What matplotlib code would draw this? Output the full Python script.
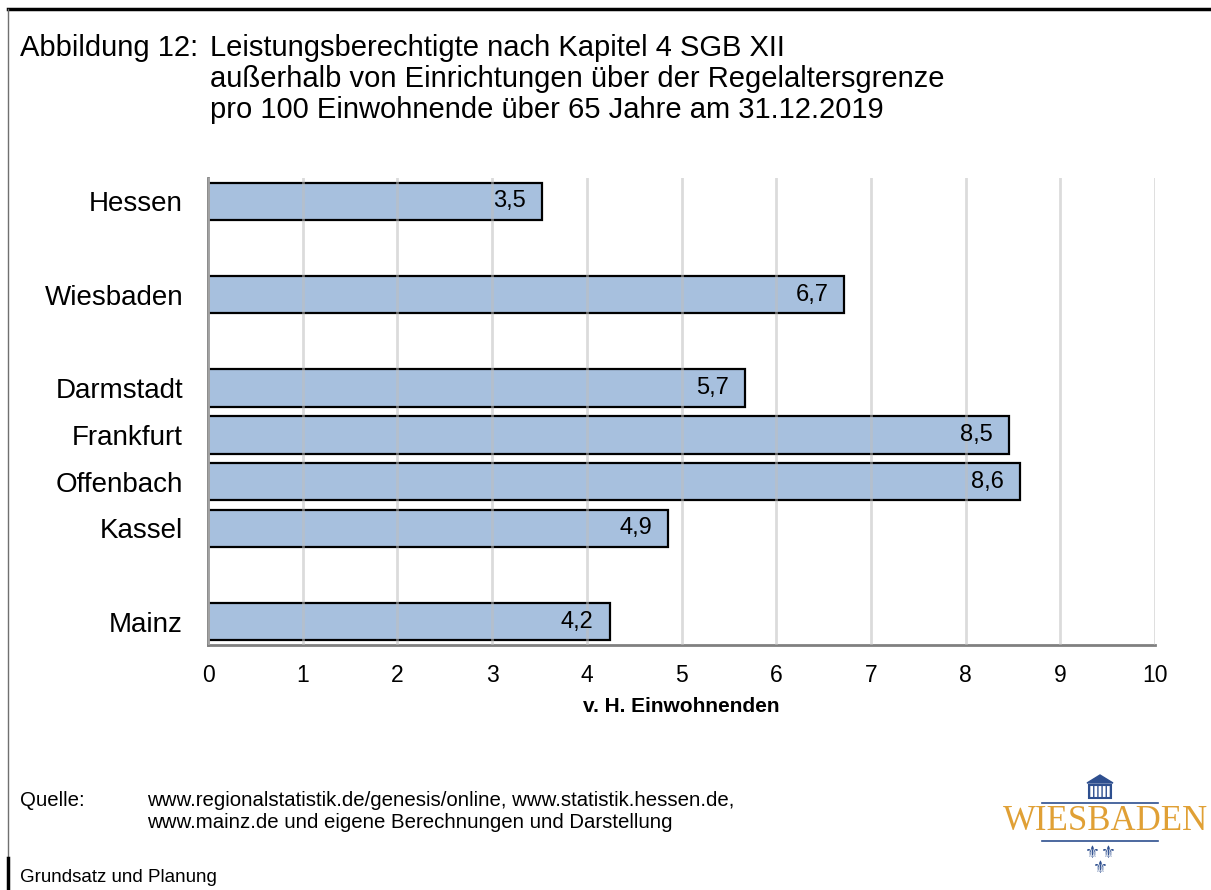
import matplotlib
matplotlib.use('Agg')
import matplotlib.pyplot as plt
from matplotlib.lines import Line2D
from matplotlib.patches import Polygon, Rectangle

plt.rcParams['font.family'] = ['Liberation Sans', 'DejaVu Sans']

# data (slot = row position, gaps are empty rows)
cities = ['Hessen', 'Wiesbaden', 'Darmstadt', 'Frankfurt', 'Offenbach', 'Kassel', 'Mainz']
slots = [0, 2, 4, 5, 6, 7, 9]
values = [3.53, 6.72, 5.67, 8.46, 8.57, 4.86, 4.24]
labels = ['3,5', '6,7', '5,7', '8,5', '8,6', '4,9', '4,2']
xticks = [0, 1, 2, 3, 4, 5, 6, 7, 8, 9, 10]

fig = plt.figure(figsize=(12.11, 8.9), dpi=100)
ax = fig.add_axes([0.1718, 0.2753, 0.782, 0.5247])

ax.barh(slots, values, height=0.8, color='#A7C0DE', edgecolor='black',
        linewidth=1.6, zorder=2)
for s, v, t in zip(slots, values, labels):
    ax.text(v - 0.17, s, t, ha='right', va='center', fontsize=17, zorder=4)

ax.set_xlim(0, 10)
ax.set_ylim(9.5, -0.5)
ax.set_xticks(xticks)
ax.set_xticklabels([str(x) for x in xticks], fontsize=16.5)
ax.set_yticks(slots)
ax.set_yticklabels(cities, fontsize=20)
ax.tick_params(axis='both', length=0)
ax.tick_params(axis='x', pad=14)
ax.tick_params(axis='y', pad=18)
ax.xaxis.grid(True, color='#BFBFBF', linewidth=2, alpha=0.55, zorder=3)
ax.set_axisbelow(False)
for side in ['top', 'right']:
    ax.spines[side].set_visible(False)
for side in ['left', 'bottom']:
    ax.spines[side].set_color('#808080')
    ax.spines[side].set_linewidth(2)
ax.set_xlabel('v. H. Einwohnenden', fontsize=15, fontweight='bold', labelpad=7)

# title block
fig.text(20 / 1211, 1 - 56 / 890, 'Abbildung 12:', fontsize=21, va='baseline')
title_lines = ['Leistungsberechtigte nach Kapitel 4 SGB XII',
               'außerhalb von Einrichtungen über der Regelaltersgrenze',
               'pro 100 Einwohnende über 65 Jahre am 31.12.2019']
for i, line in enumerate(title_lines):
    fig.text(210 / 1211, 1 - (56 + 31 * i) / 890, line, fontsize=21, va='baseline')

# source and footer
fig.text(20 / 1211, 1 - 800 / 890, 'Quelle:', fontsize=14.7, va='center')
fig.text(147 / 1211, 1 - 800 / 890,
         'www.regionalstatistik.de/genesis/online, www.statistik.hessen.de,',
         fontsize=14.7, va='center')
fig.text(147 / 1211, 1 - 822 / 890,
         'www.mainz.de und eigene Berechnungen und Darstellung',
         fontsize=14.7, va='center')
fig.text(20 / 1211, 1 - 877 / 890, 'Grundsatz und Planung', fontsize=13.5, va='center')

# page frame
fig.add_artist(Line2D([8 / 1211, 1], [1 - 9 / 890] * 2, color='black', linewidth=2.5))
fig.add_artist(Line2D([8 / 1211] * 2, [1 - 9 / 890, 1 - 858 / 890], color='#707070', linewidth=1))
fig.add_artist(Line2D([8 / 1211] * 2, [1 - 858 / 890, 0], color='black', linewidth=2.5))

# Wiesbaden logo
blue = '#2E4F8F'
gold = '#E0A035'
fig.text(1105 / 1211, 1 - 822 / 890, 'WIESBADEN', fontsize=25, color=gold,
         family='Liberation Serif', ha='center', va='center')
fig.add_artist(Line2D([1042 / 1211, 1158 / 1211], [1 - 803 / 890] * 2, color=blue, linewidth=1.2))
fig.add_artist(Line2D([1042 / 1211, 1158 / 1211], [1 - 841 / 890] * 2, color=blue, linewidth=1.2))
fig.add_artist(Polygon([[1087 / 1211, 1 - 783 / 890], [1113 / 1211, 1 - 783 / 890],
                        [1100 / 1211, 1 - 775 / 890]], closed=True, color=blue))
fig.add_artist(Rectangle((1089 / 1211, 1 - 798 / 890), 22 / 1211, 13 / 890,
                         facecolor='white', edgecolor=blue, linewidth=1.5, hatch='||||'))
fig.text(1092 / 1211, 1 - 853 / 890, '⚜', fontsize=12, color=blue, ha='center', va='center',
         family='DejaVu Sans')
fig.text(1108 / 1211, 1 - 853 / 890, '⚜', fontsize=12, color=blue, ha='center', va='center',
         family='DejaVu Sans')
fig.text(1100 / 1211, 1 - 868 / 890, '⚜', fontsize=12, color=blue, ha='center', va='center',
         family='DejaVu Sans')

fig.savefig('out.png', dpi=100)
